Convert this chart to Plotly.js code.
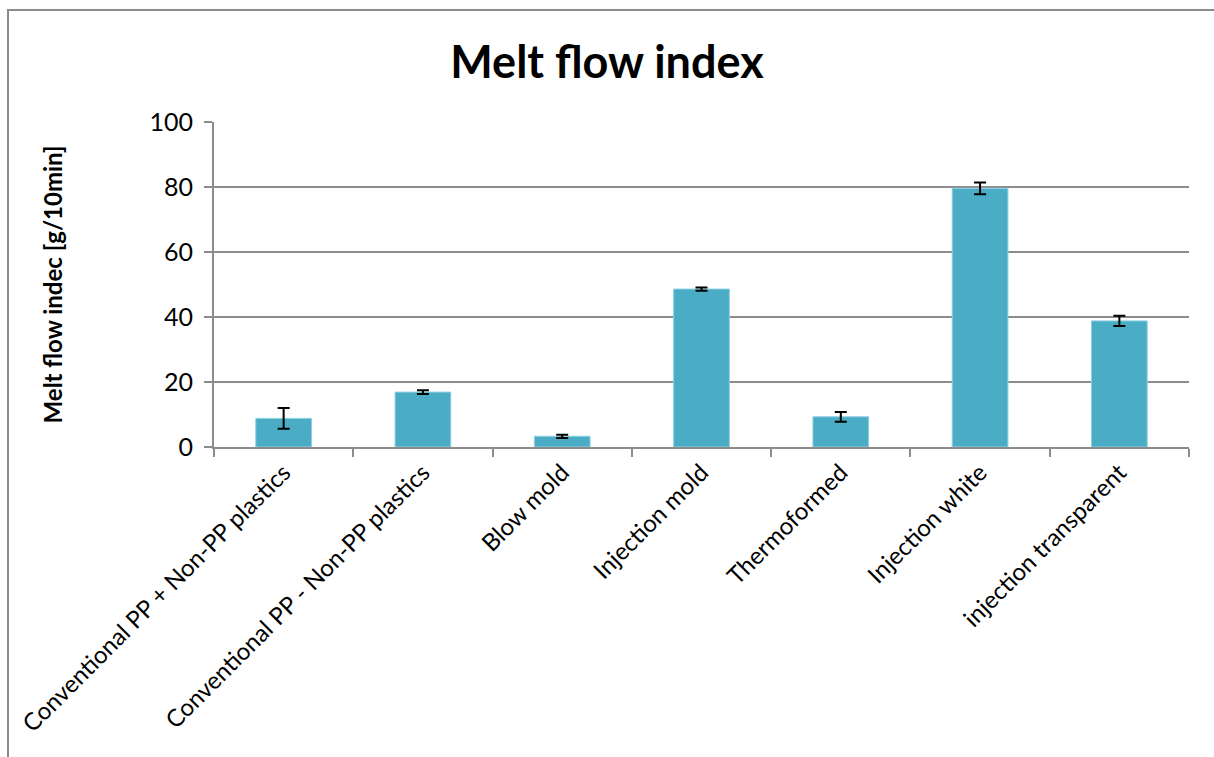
<!DOCTYPE html>
<html>
<head>
<meta charset="utf-8">
<script src="https://cdn.plot.ly/plotly-3.0.1.min.js"></script>
<style>
html,body{margin:0;padding:0;background:#fff;}
#wrap{position:relative;width:1214px;height:757px;overflow:hidden;}
#chart{width:1214px;height:757px;}
#frame{position:absolute;left:7px;top:9px;right:-10px;bottom:-10px;border-left:2px solid #8c8c8c;border-top:2px solid #8c8c8c;pointer-events:none;}
</style>
</head>
<body>
<div id="wrap"><div id="chart"></div><div id="frame"></div></div>
<script>
const categories = [
  "Conventional PP + Non-PP plastics",
  "Conventional PP - Non-PP plastics",
  "Blow mold",
  "Injection mold",
  "Thermoformed",
  "Injection white",
  "injection transparent"
];
const mfiValues = [8.8, 16.9, 3.3, 48.6, 9.3, 79.6, 38.8];
const mfiErrors = [3.2, 0.6, 0.5, 0.5, 1.5, 1.8, 1.6];
const yTicks = [0, 20, 40, 60, 80, 100];

const font = "Lato, 'Open Sans', 'Liberation Sans', sans-serif";

Plotly.newPlot("chart", [{
  type: "bar",
  x: categories,
  y: mfiValues,
  marker: {color: "#4BACC6", line: {color: "#8fd0e0", width: 1}},
  error_y: {type: "data", array: mfiErrors, visible: true, color: "#000", thickness: 2, width: 6},
  hoverinfo: "x+y"
}], {
  width: 1214, height: 757,
  paper_bgcolor: "#fff", plot_bgcolor: "#fff",
  margin: {l: 214, r: 25, t: 122, b: 310},
  bargap: 0.6,
  showlegend: false,
  title: {text: "<b>Melt flow index</b>", font: {family: font, size: 45, color: "#000"}, x: 0.5, xanchor: "center", y: 0.918, yanchor: "middle"},
  xaxis: {
    type: "category",
    tickangle: -45,
    tickfont: {family: font, size: 24, color: "#000"},
    showline: true, linecolor: "#8c8c8c", linewidth: 2,
    ticks: "outside", tickson: "boundaries", ticklen: 8, tickcolor: "#8c8c8c", tickwidth: 2,
    showgrid: false, automargin: false
  },
  yaxis: {
    range: [0, 100],
    tickvals: yTicks,
    tickfont: {family: font, size: 25, color: "#000"},
    showline: true, linecolor: "#8c8c8c", linewidth: 2,
    ticks: "outside", ticklen: 8, tickcolor: "#8c8c8c", tickwidth: 2,
    showgrid: true, gridcolor: "#8c8c8c", gridwidth: 2,
    zeroline: false,
    ticklabelstandoff: 6,
    title: {text: "<b>Melt flow indec [g/10min]</b>", font: {family: font, size: 24, color: "#000"}, standoff: 80},
    automargin: false
  }
}, {displayModeBar: false});
</script>
</body>
</html>
